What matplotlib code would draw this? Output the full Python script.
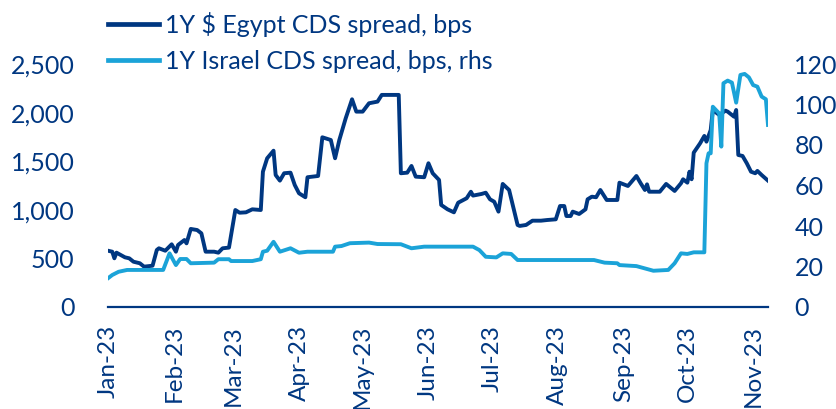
import matplotlib
matplotlib.use("Agg")
import matplotlib.pyplot as plt
import matplotlib.dates as mdates
import pandas as pd

# days since 2023-01-01
egypt_day = [0, 2, 3, 4, 8, 10, 12, 15, 17, 21, 23, 24, 27, 30, 32, 33, 36, 37, 39, 42,
             44, 46, 50, 52, 54, 57, 60, 62, 65, 68, 72, 73, 75, 78, 79, 81, 83, 86, 88, 90,
             93, 94, 99, 101, 105, 107, 109, 112, 115, 117, 120, 123, 127, 129, 137, 138, 141, 143, 145, 149,
             151, 153, 156, 157, 160, 163, 165, 169, 171, 172, 176, 178, 180, 182, 184, 186, 189, 193, 194, 197,
             200, 204, 207, 211, 213, 215, 216, 218, 219, 222, 225, 226, 228, 230, 232, 235, 240, 241, 245, 249,
             251, 253, 254, 255, 260, 263, 267, 270, 271, 273, 274, 275, 276, 279, 281, 282, 284, 285, 288, 291,
             292, 295, 296, 297, 299, 301, 303, 305, 306, 308, 311]
egypt_cds = [579, 569, 501, 559, 511, 501, 466, 450, 415, 425, 587, 604, 579, 645, 569, 638, 689, 655, 803, 792,
             758, 569, 569, 559, 604, 611, 998, 970, 974, 1005, 998, 1392, 1530, 1608, 1358, 1300, 1376, 1382, 1255, 1170,
             1129, 1335, 1348, 1746, 1718, 1530, 1718, 1941, 2137, 2010, 2010, 2096, 2113, 2182, 2182, 1376, 1382, 1451, 1341, 1335,
             1479, 1376, 1307, 1050, 1005, 974, 1073, 1119, 1186, 1146, 1163, 1176, 1108, 1083, 981, 1266, 1204, 844, 834, 844,
             888, 888, 895, 902, 1039, 1039, 936, 936, 981, 957, 1005, 1108, 1135, 1129, 1204, 1101, 1101, 1279, 1245, 1348,
             1273, 1204, 1262, 1186, 1186, 1266, 1194, 1273, 1314, 1279, 1392, 1314, 1588, 1684, 1760, 1701, 1821, 2027, 1976, 2020,
             2010, 1958, 2027, 1564, 1554, 1479, 1392, 1376, 1400, 1358, 1300]

israel_day = [0, 2, 5, 9, 26, 29, 32, 34, 37, 39, 50, 52, 57, 58, 68, 72, 73, 75, 78, 81,
              86, 90, 94, 106, 107, 110, 114, 123, 127, 138, 143, 149, 172, 175, 178, 183, 186, 190, 193, 229,
              234, 240, 241, 249, 257, 264, 267, 270, 273, 276, 281, 282, 283, 284, 285, 288, 289, 290, 292, 294,
              296, 298, 300, 302, 304, 306, 308, 310, 311]
israel_cds = [14.2, 15.8, 17.4, 18.3, 18.3, 26.5, 20.7, 23.7, 23.7, 21.6, 21.9, 23.6, 23.6, 22.7, 22.7, 23.6, 27.3, 27.8, 32.2, 27.3,
              29.0, 26.8, 27.3, 27.3, 29.8, 30.1, 31.5, 31.8, 31.1, 31.0, 29.0, 29.8, 29.8, 28.1, 24.8, 24.5, 26.5, 26.2, 23.2, 23.2,
              21.9, 21.6, 20.7, 20.2, 17.9, 18.3, 21.6, 26.5, 26.2, 27.0, 27.0, 71.0, 75.9, 75.9, 98.9, 95.6, 79.2, 110.5, 111.8, 110.8,
              100.9, 114.6, 115.1, 113.4, 109.6, 108.8, 103.9, 102.6, 89.9]

left_ticks = [0, 500, 1000, 1500, 2000, 2500]
right_ticks = [0, 20, 40, 60, 80, 100, 120]

DARK = "#003781"
LIGHT = "#1BA3D8"

plt.rcParams["font.family"] = ["Lato", "DejaVu Sans"]


def main():
    start = pd.Timestamp("2023-01-01")
    egypt_dates = start + pd.to_timedelta(egypt_day, unit="D")
    israel_dates = start + pd.to_timedelta(israel_day, unit="D")

    fig = plt.figure(figsize=(8.37, 4.09), dpi=100)
    ax = fig.add_axes([108 / 837, 1 - 307 / 409, 660 / 837, 243 / 409])
    ax2 = ax.twinx()

    l1, = ax.plot(egypt_dates, egypt_cds, color=DARK, lw=2.8, solid_joinstyle="round",
                  label="1Y $ Egypt CDS spread, bps")
    l2, = ax2.plot(israel_dates, israel_cds, color=LIGHT, lw=2.8, solid_joinstyle="round",
                   label="1Y Israel CDS spread, bps, rhs")

    ax.set_ylim(0, 2500)
    ax2.set_ylim(0, 120)
    ax.set_xlim(egypt_dates[0], egypt_dates[-1])
    ax.set_yticks(left_ticks)
    ax.set_yticklabels([f"{v:,}" for v in left_ticks])
    ax2.set_yticks(right_ticks)

    ax.xaxis.set_major_locator(mdates.MonthLocator())
    ax.xaxis.set_major_formatter(mdates.DateFormatter("%b-%y"))

    for a in (ax, ax2):
        for s in a.spines.values():
            s.set_visible(False)
        a.tick_params(length=0, colors=DARK, labelsize=18)
    ax.spines["bottom"].set_visible(True)
    ax.spines["bottom"].set_color(DARK)
    ax.spines["bottom"].set_linewidth(1.6)
    ax.tick_params(axis="y", pad=24)
    ax2.tick_params(axis="y", pad=19)
    ax.tick_params(axis="x", pad=13, labelsize=17.5)
    for lab in ax.get_xticklabels():
        lab.set_rotation(90)

    leg = fig.legend(handles=[l1, l2], loc="upper left", bbox_to_anchor=(98 / 837, 0.995),
                     frameon=False, fontsize=18, handlelength=2.05, handletextpad=0.25,
                     labelspacing=0.5, borderaxespad=0)
    for t in leg.get_texts():
        t.set_color(DARK)
    for h in leg.legend_handles:
        h.set_linewidth(3.4)

    fig.savefig("out.png", dpi=100)
    plt.close(fig)


if __name__ == "__main__":
    main()
